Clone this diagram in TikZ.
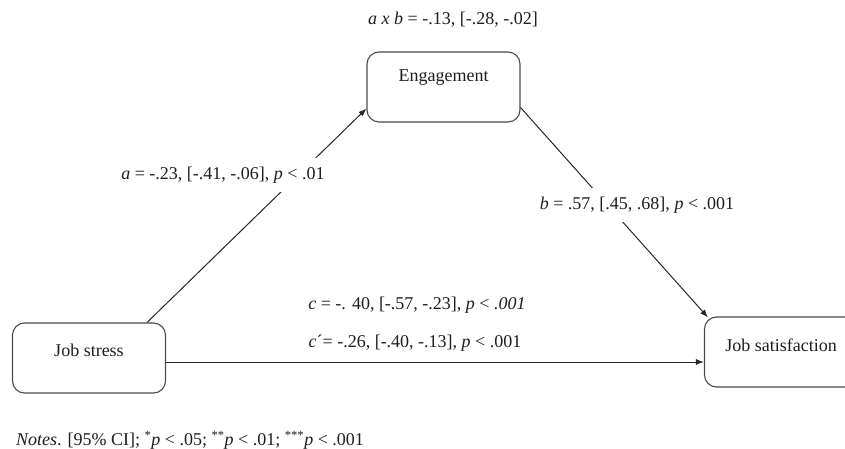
\documentclass[tikz,border=0pt]{standalone}
\usepackage{fontspec}
\setmainfont{Liberation Serif}
\usetikzlibrary{positioning,arrows.meta}
\definecolor{cLine}{HTML}{262626}
\definecolor{cBox}{HTML}{4A4A4A}
\definecolor{cText}{HTML}{1E1E1E}

\begin{document}
\begin{tikzpicture}[x=1pt,y=1pt,font=\fontsize{18}{22}\selectfont,
      var/.style={draw=cBox,line width=1.1pt,rounded corners=12pt,minimum width=153pt,minimum height=70pt},
      vtxt/.style={text=cText},
      coef/.style={text=cText,fill=white,inner xsep=2pt,inner ysep=9pt},
      effect/.style={draw=cLine,line width=1pt,-{Latex[length=8pt,width=6pt]}}]
    \clip (0,0) rectangle (845,448);
    % variables
    \node[var] (js) at (89,90) {};
    \node[var] (eng) at (443.5,361) {};
    \node[var] (jsat) at (781,96) {};
    \node[vtxt] (jst) at ([yshift=8pt]js.center) {Job stress};
    \node[vtxt] (engt) at ([yshift=9pt]eng.center) {Engagement};
    \node[vtxt] (jsatt) at ([yshift=7pt]jsat.center) {Job satisfaction};
    % paths
    \coordinate (aout) at ([xshift=-19pt]js.north east);
    \coordinate (ain) at ([yshift=14pt]eng.south west);
    \coordinate (bout) at ([yshift=15pt]eng.south east);
    \coordinate (bin) at ([xshift=4pt,yshift=-1pt]jsat.north west);
    \coordinate (cout) at ([yshift=-4pt]js.east);
    \draw[effect] (aout) -- (ain);
    \draw[effect] (bout) -- (bin);
    \draw[effect] (cout) -- (cout -| jsat.west);
    % coefficients
    \node[coef] (ab) at (453,428) {\textit{a x b} = -.13, [-.28, -.02]};
    \node[coef] (acoef) at (223,273) {\textit{a} = -.23, [-.41, -.06], \textit{p} < .01};
    \node[coef] (bcoef) at (637,243) {\textit{b} = .57, [.45, .68], \textit{p} < .001};
    \node[coef] (ccoef) at (417,143) {\textit{c} = -. 40, [-.57, -.23], \textit{p} < \textit{.001}};
    \node[coef] (cpcoef) at (415,105) {\textit{c}´= -.26, [-.40, -.13], \textit{p} < .001};
    \node[coef,anchor=west,inner ysep=2pt] (notes) at (14,8) {\textit{Notes}. [95\% CI]; \textsuperscript{*}\textit{p} < .05; \textsuperscript{**}\textit{p} < .01; \textsuperscript{***}\textit{p} < .001};
  \end{tikzpicture}
\end{document}
